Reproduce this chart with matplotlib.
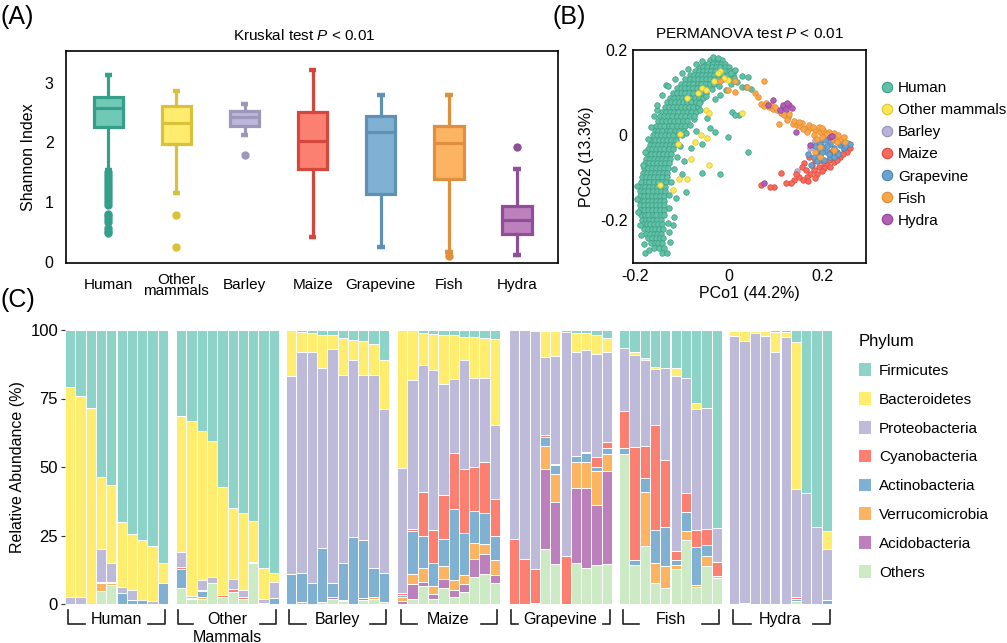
import matplotlib
matplotlib.use("Agg")
import matplotlib.pyplot as plt
from matplotlib.patches import Patch
from matplotlib.lines import Line2D

plt.rcParams["font.family"] = ["Liberation Sans", "DejaVu Sans"]
plt.rcParams["mathtext.fontset"] = "custom"
plt.rcParams["mathtext.rm"] = "Liberation Sans"
plt.rcParams["mathtext.it"] = "Liberation Sans:italic"

####### DATA ############
hosts = ["Human", "Other mammals", "Barley", "Maize", "Grapevine", "Fish", "Hydra"]
box_labels = ["Human", "Other\nmammals", "Barley", "Maize", "Grapevine", "Fish", "Hydra"]
facet_labels = ["Human", "Other\nMammals", "Barley", "Maize", "Grapevine", "Fish", "Hydra"]

box_fill = ["#70c9b5", "#ffec6e", "#bdb8d8", "#fb8072", "#80b1d3", "#fdb462", "#bc80bd"]
box_edge = ["#35a08a", "#d9c23a", "#9d97bb", "#d4473a", "#5f90b6", "#e0903c", "#8f4f98"]

# (A) Shannon index box statistics
shannon_whislo = [1.54, 1.16, 2.12, 0.42, 0.25, 0.16, 0.11]
shannon_q1 = [2.25, 1.97, 2.28, 1.56, 1.14, 1.38, 0.46]
shannon_med = [2.57, 2.32, 2.43, 2.03, 2.18, 1.99, 0.70]
shannon_q3 = [2.76, 2.61, 2.53, 2.51, 2.44, 2.28, 0.93]
shannon_whishi = [3.13, 2.86, 2.65, 3.22, 2.80, 2.80, 1.55]
shannon_fliers = [
    [1.50, 1.45, 1.40, 1.35, 1.30, 1.25, 1.20, 1.15, 1.10, 1.05, 1.00, 0.95,
     0.80, 0.76, 0.72, 0.66, 0.56, 0.52, 0.48],
    [0.78, 0.25],
    [1.79],
    [],
    [],
    [0.10],
    [1.93],
]

# (B) PCoA points
human_rows_y = [0.176, 0.168, 0.160, 0.151, 0.142, 0.132, 0.121, 0.110, 0.099, 0.088,
                0.077, 0.066, 0.055, 0.044, 0.033, 0.022, 0.011, 0.000, -0.011, -0.022,
                -0.033, -0.044, -0.055, -0.066, -0.077, -0.088, -0.099, -0.110, -0.121,
                -0.132, -0.143, -0.154, -0.165, -0.176, -0.187, -0.198, -0.209, -0.220,
                -0.231, -0.242, -0.253, -0.264, -0.276]
human_rows_x = [
    [-0.040, -0.030, -0.022, -0.014],
    [-0.052, -0.043, -0.034, -0.025, -0.016, -0.007],
    [-0.062, -0.054, -0.045, -0.036, -0.027, -0.018, -0.008, 0.002],
    [-0.072, -0.063, -0.055, -0.046, -0.037, -0.028, -0.019, -0.009, 0.004, 0.012],
    [-0.083, -0.074, -0.065, -0.056, -0.047, -0.039, -0.030, -0.021, -0.012, -0.002, 0.010],
    [-0.092, -0.083, -0.074, -0.066, -0.057, -0.048, -0.040, -0.031, -0.022, -0.012, 0.002],
    [-0.101, -0.093, -0.084, -0.075, -0.066, -0.058, -0.049, -0.040, -0.030],
    [-0.110, -0.102, -0.093, -0.084, -0.076, -0.067, -0.058, -0.048],
    [-0.118, -0.110, -0.101, -0.092, -0.084, -0.075, -0.066, -0.056, -0.047],
    [-0.125, -0.117, -0.108, -0.099, -0.091, -0.082, -0.072, -0.063, -0.054],
    [-0.131, -0.123, -0.114, -0.106, -0.097, -0.088, -0.079, -0.070, -0.061],
    [-0.136, -0.128, -0.119, -0.111, -0.102, -0.093, -0.084, -0.075, -0.066],
    [-0.141, -0.133, -0.124, -0.116, -0.107, -0.098, -0.088, -0.079, -0.070],
    [-0.146, -0.137, -0.129, -0.120, -0.111, -0.102, -0.092, -0.083],
    [-0.150, -0.142, -0.133, -0.124, -0.116, -0.107, -0.097, -0.088],
    [-0.154, -0.146, -0.137, -0.128, -0.120, -0.111, -0.101, -0.092],
    [-0.158, -0.150, -0.141, -0.132, -0.124, -0.115, -0.105, -0.096],
    [-0.162, -0.153, -0.145, -0.136, -0.127, -0.118, -0.108, -0.099],
    [-0.165, -0.157, -0.148, -0.139, -0.131, -0.122, -0.112],
    [-0.168, -0.160, -0.151, -0.143, -0.134, -0.125, -0.116],
    [-0.171, -0.163, -0.154, -0.146, -0.137, -0.128, -0.119],
    [-0.174, -0.166, -0.157, -0.149, -0.140, -0.131, -0.122],
    [-0.176, -0.168, -0.160, -0.151, -0.143, -0.134, -0.125],
    [-0.178, -0.170, -0.162, -0.153, -0.145, -0.136, -0.127],
    [-0.180, -0.172, -0.164, -0.155, -0.147, -0.138, -0.129],
    [-0.182, -0.174, -0.166, -0.157, -0.149, -0.140, -0.131],
    [-0.184, -0.176, -0.167, -0.159, -0.150, -0.141, -0.132],
    [-0.186, -0.177, -0.169, -0.160, -0.151, -0.143, -0.134],
    [-0.187, -0.179, -0.170, -0.161, -0.152, -0.144, -0.135],
    [-0.188, -0.180, -0.171, -0.162, -0.153, -0.145, -0.136],
    [-0.189, -0.181, -0.172, -0.163, -0.154, -0.146, -0.137],
    [-0.189, -0.181, -0.172, -0.164, -0.155, -0.146, -0.138],
    [-0.189, -0.181, -0.173, -0.164, -0.155, -0.147, -0.138],
    [-0.188, -0.180, -0.172, -0.163, -0.155, -0.146, -0.138],
    [-0.187, -0.179, -0.171, -0.162, -0.154, -0.145, -0.137],
    [-0.185, -0.177, -0.169, -0.161, -0.152, -0.144],
    [-0.183, -0.175, -0.167, -0.159, -0.151, -0.143],
    [-0.180, -0.172, -0.164, -0.156, -0.148, -0.140],
    [-0.176, -0.168, -0.160, -0.152, -0.144],
    [-0.172, -0.163, -0.155, -0.147, -0.139],
    [-0.166, -0.158, -0.150, -0.142],
    [-0.160, -0.148, -0.138],
    [-0.178, -0.142, -0.131],
]
human_sparse = [(0.018, 0.125), (0.028, 0.113), (0.042, 0.137), (0.049, 0.109), (0.038, 0.112),
                (0.022, 0.047), (0.042, -0.039), (0.000, -0.004), (-0.018, -0.090), (-0.056, -0.088),
                (-0.039, 0.016), (-0.028, 0.008), (-0.056, -0.020), (-0.091, -0.133), (-0.112, -0.148),
                (-0.116, -0.191), (-0.119, -0.211), (-0.133, 0.117), (-0.153, 0.060), (-0.074, 0.039),
                (-0.028, 0.084), (-0.018, 0.094), (0.007, 0.055), (0.014, 0.047), (0.116, 0.066),
                (0.122, 0.072), (-0.060, 0.060), (-0.045, 0.040), (-0.070, 0.010), (-0.080, -0.030),
                (-0.095, -0.060), (-0.100, -0.090), (0.030, 0.140), (0.012, 0.135), (0.005, 0.120),
                (-0.005, 0.105),
                # ragged edges of the main cloud
                (-0.195, -0.120), (-0.196, -0.150), (-0.194, -0.180), (-0.190, -0.210),
                (-0.186, -0.235), (-0.180, -0.255), (-0.170, -0.270), (-0.183, -0.070),
                (-0.178, -0.040), (-0.172, -0.010), (-0.166, 0.020), (-0.160, 0.045),
                (-0.152, 0.072), (-0.142, 0.095), (-0.130, 0.115), (-0.115, 0.131),
                (-0.100, 0.145), (-0.086, 0.156), (-0.070, 0.166), (-0.056, 0.175),
                (-0.125, -0.250), (-0.128, -0.228), (-0.130, -0.205), (-0.128, -0.170),
                (-0.126, -0.140), (-0.122, -0.110), (-0.116, -0.080), (-0.110, -0.050),
                (-0.103, -0.025), (-0.090, 0.005), (-0.083, 0.025), (-0.074, 0.045),
                (-0.062, 0.075), (-0.048, 0.092), (-0.036, 0.108), (-0.020, 0.116),
                (0.006, 0.146), (0.014, 0.153), (-0.032, 0.183), (-0.022, 0.181)]
mammal_pts = [(-0.018, 0.150), (-0.022, 0.145), (0.000, 0.129), (-0.057, 0.111), (-0.049, 0.107),
              (-0.089, 0.088), (-0.049, 0.059), (-0.042, 0.051), (-0.104, 0.002), (-0.059, 0.000),
              (-0.071, -0.016), (-0.045, -0.006), (-0.107, -0.021), (-0.079, -0.055), (-0.042, -0.070),
              (-0.089, -0.102), (-0.105, -0.102), (-0.147, -0.116), (-0.118, -0.128), (0.029, 0.051),
              (-0.010, 0.135), (-0.030, 0.128), (-0.066, 0.098)]
barley_pts = [(0.182, -0.020), (0.193, -0.016), (0.200, -0.012), (0.207, -0.004), (0.189, -0.027),
              (0.147, -0.084), (0.214, -0.008), (0.196, -0.023), (0.186, -0.012), (0.175, -0.030)]
maize_pts = [(0.256, -0.027), (0.246, -0.035), (0.235, -0.043), (0.225, -0.051), (0.214, -0.059),
             (0.204, -0.066), (0.193, -0.074), (0.182, -0.082), (0.175, -0.090), (0.168, -0.098),
             (0.161, -0.066), (0.158, -0.074), (0.172, -0.051), (0.186, -0.059), (0.196, -0.059),
             (0.211, -0.070), (0.225, -0.063), (0.239, -0.051), (0.253, -0.039), (0.189, -0.090),
             (0.204, -0.078), (0.218, -0.074), (0.232, -0.059), (0.179, -0.070), (0.165, -0.082),
             (0.140, -0.105), (0.151, -0.098), (0.133, -0.112), (0.123, -0.113), (0.112, -0.088),
             (0.097, -0.121), (0.088, -0.121), (0.069, -0.117), (0.196, -0.039), (0.218, -0.039),
             (0.160, -0.105), (0.145, -0.090), (0.244, -0.045), (0.260, -0.030), (0.200, -0.085),
             (0.185, -0.100), (0.170, -0.108)]
grape_pts = [(0.182, -0.051), (0.196, -0.047), (0.211, -0.039), (0.225, -0.031), (0.239, -0.023),
             (0.253, -0.018), (0.260, -0.020), (0.218, -0.051), (0.232, -0.039), (0.246, -0.031),
             (0.196, -0.020), (0.207, -0.012), (0.218, -0.020), (0.228, -0.012), (0.242, -0.016),
             (0.189, -0.035), (0.203, -0.027), (0.214, -0.045), (0.225, -0.051), (0.190, -0.060),
             (0.205, -0.058), (0.170, -0.045), (0.176, -0.070), (0.235, -0.045), (0.250, -0.026),
             (0.210, -0.025), (0.200, -0.040), (0.186, -0.025)]
fish_pts = [(0.070, 0.073), (0.077, 0.068), (0.086, 0.066), (0.095, 0.062), (0.104, 0.059),
            (0.112, 0.052), (0.119, 0.047), (0.128, 0.043), (0.109, 0.027), (0.137, 0.026),
            (0.146, 0.023), (0.154, 0.021), (0.165, 0.018), (0.175, 0.016), (0.186, 0.012),
            (0.196, 0.008), (0.207, 0.004), (0.218, 0.000), (0.228, -0.005), (0.239, -0.010),
            (0.249, -0.016), (0.168, 0.008), (0.182, 0.000), (0.193, 0.020), (0.203, 0.013),
            (0.214, 0.008), (0.225, 0.004), (0.235, 0.000), (0.246, -0.005), (0.232, -0.016),
            (0.221, -0.010), (0.189, -0.008), (0.196, -0.027), (0.186, -0.039), (0.196, -0.051),
            (0.225, -0.034), (0.077, 0.127), (0.056, 0.099), (0.063, 0.090), (0.039, 0.112),
            (0.014, 0.128), (-0.018, 0.128), (0.000, 0.105), (0.014, 0.102), (0.080, 0.075),
            (0.090, 0.072), (0.100, 0.066), (0.130, 0.050), (0.140, 0.034), (0.158, 0.028),
            (0.172, 0.024), (0.180, 0.020), (0.200, 0.017), (0.210, 0.002), (0.200, -0.004),
            (0.160, 0.014), (0.150, 0.030), (0.126, 0.035)]
hydra_pts = [(0.084, 0.070), (0.095, 0.082), (0.116, 0.070), (0.123, 0.062), (0.130, 0.070),
             (0.125, 0.075), (0.144, 0.008), (0.218, -0.004), (0.175, -0.023), (0.076, -0.113),
             (0.110, 0.060), (0.135, 0.064), (0.222, -0.002)]

pt_face = ["#5fc2a6", "#fde84f", "#b9b3d8", "#f9695c", "#6aa3cf", "#fca64a", "#b35fb8"]
pt_edge = ["#3d9e86", "#d8c33a", "#9690b8", "#d9483c", "#4b84b0", "#e08a30", "#8e4096"]

# (C) relative abundance (%), 10 samples per host, bottom -> top
phyla = ["Others", "Acidobacteria", "Verrucomicrobia", "Actinobacteria",
         "Cyanobacteria", "Proteobacteria", "Bacteroidetes", "Firmicutes"]
phylum_colors = {"Firmicutes": "#8dd3c7", "Bacteroidetes": "#ffed6f", "Proteobacteria": "#bebada",
                 "Cyanobacteria": "#fb8072", "Actinobacteria": "#80b1d3", "Verrucomicrobia": "#fdb462",
                 "Acidobacteria": "#bc80bd", "Others": "#ccebc5"}
legend_order = ["Firmicutes", "Bacteroidetes", "Proteobacteria", "Cyanobacteria",
                "Actinobacteria", "Verrucomicrobia", "Acidobacteria", "Others"]

human_ab = {
    "Others":          [0, 0, 0, 4.6, 6.8, 0, 0, 0, 0, 0],
    "Acidobacteria":   [0, 0, 0, 0, 0, 0, 0, 0, 0, 0],
    "Verrucomicrobia": [0, 0, 0, 2.9, 0.7, 0, 0, 0, 0, 0],
    "Actinobacteria":  [0, 0, 0, 0.5, 0, 3.9, 1.5, 1.5, 0, 7.8],
    "Cyanobacteria":   [0, 0, 0, 0, 0.7, 0, 0, 0, 0, 0],
    "Proteobacteria":  [2.7, 2.7, 0, 12.0, 6.8, 2.4, 3.6, 0, 1.0, 0],
    "Bacteroidetes":   [76.5, 73.2, 71.4, 26.5, 28.4, 23.6, 20.6, 21.7, 20.2, 7.3],
    "Firmicutes":      [20.8, 24.1, 28.6, 53.5, 56.6, 70.1, 74.3, 76.8, 78.8, 84.9],
}
mammal_ab = {
    "Others":          [5.8, 1.7, 1.9, 7.8, 2.7, 4.5, 1.9, 14.8, 0, 0],
    "Acidobacteria":   [0, 0, 0, 0, 0, 0, 0, 0, 0, 0],
    "Verrucomicrobia": [0, 0, 0.5, 0, 0, 0, 0, 0, 0, 0],
    "Actinobacteria":  [7.1, 0, 2.2, 0, 0, 0, 0, 0, 0.5, 2.2],
    "Cyanobacteria":   [0.7, 0.5, 0.5, 0, 0.7, 0.9, 0.7, 0, 0, 0],
    "Proteobacteria":  [5.4, 0.6, 3.6, 1.9, 0, 3.6, 2.4, 0.7, 1.2, 5.8],
    "Bacteroidetes":   [49.6, 64.0, 54.4, 49.8, 39.4, 26.0, 28.2, 14.7, 11.6, 3.4],
    "Firmicutes":      [31.4, 33.2, 36.9, 40.5, 57.2, 65.0, 66.8, 69.8, 86.7, 88.6],
}
barley_ab = {
    "Others":          [0, 0, 0, 0.7, 1.9, 1.0, 0, 1.5, 1.9, 0.7],
    "Acidobacteria":   [0, 0, 0, 0, 0.6, 0.5, 0, 0.7, 0, 0],
    "Verrucomicrobia": [0, 0.7, 0, 0, 0, 0, 0, 0, 0.7, 0],
    "Actinobacteria":  [10.8, 10.5, 7.5, 19.6, 5.0, 13.4, 24.6, 21.2, 10.6, 10.7],
    "Cyanobacteria":   [0, 0, 0, 0, 0, 0, 0, 0, 0, 0],
    "Proteobacteria":  [72.4, 80.8, 84.4, 65.9, 85.4, 68.6, 64.4, 60.3, 70.2, 59.6],
    "Bacteroidetes":   [16.8, 7.4, 7.1, 11.9, 5.1, 13.5, 7.4, 12.3, 11.6, 18.2],
    "Firmicutes":      [0, 0.6, 1.0, 1.9, 2.0, 3.0, 3.6, 4.0, 5.0, 10.8],
}
maize_ab = {
    "Others":          [0, 1.7, 6.6, 1.9, 6.0, 2.6, 4.4, 10.0, 10.8, 7.5],
    "Acidobacteria":   [1.0, 5.5, 1.5, 1.9, 3.0, 2.6, 2.8, 6.6, 7.4, 3.0],
    "Verrucomicrobia": [1.7, 3.6, 5.0, 2.7, 4.9, 3.6, 3.4, 5.5, 3.8, 5.5],
    "Actinobacteria":  [0.7, 15.8, 11.8, 8.5, 9.7, 26.0, 15.2, 11.9, 11.1, 9.0],
    "Cyanobacteria":   [0.7, 0.9, 15.8, 11.9, 16.2, 20.4, 23.4, 15.9, 18.9, 13.4],
    "Proteobacteria":  [45.6, 54.1, 46.5, 58.6, 40.6, 26.8, 39.7, 32.7, 30.3, 26.8],
    "Bacteroidetes":   [50.3, 18.4, 11.6, 13.0, 17.8, 16.0, 8.7, 14.7, 14.9, 31.6],
    "Firmicutes":      [0, 0, 1.2, 1.5, 1.8, 2.0, 2.4, 2.7, 2.8, 3.2],
}
grape_ab = {
    "Others":          [0, 0, 0, 20.2, 14.5, 0, 15.1, 13.3, 14.2, 14.5],
    "Acidobacteria":   [0, 0, 0, 29.0, 22.9, 0, 27.1, 29.2, 21.8, 34.1],
    "Verrucomicrobia": [0, 0, 0.5, 8.3, 9.9, 0, 9.7, 9.5, 12.4, 6.2],
    "Actinobacteria":  [0, 0, 0, 3.3, 3.4, 0, 2.1, 3.0, 1.7, 2.1],
    "Cyanobacteria":   [23.6, 16.5, 12.2, 0.8, 0.5, 17.5, 0, 0.5, 3.6, 2.1],
    "Proteobacteria":  [76.4, 83.5, 86.8, 28.4, 39.2, 81.8, 38.1, 37.3, 37.7, 32.8],
    "Bacteroidetes":   [0, 0, 0, 9.5, 9.1, 0, 6.9, 6.0, 6.8, 5.2],
    "Firmicutes":      [0, 0, 0.5, 0.5, 0.5, 0.7, 1.0, 1.2, 1.8, 3.0],
}
fish_ab = {
    "Others":          [54.6, 14.1, 21.2, 7.8, 6.0, 12.9, 23.2, 6.3, 13.9, 9.4],
    "Acidobacteria":   [0, 0, 0, 0, 0, 0, 0, 0, 0, 0],
    "Verrucomicrobia": [0, 0, 19.7, 7.3, 7.9, 1.2, 3.4, 0.6, 3.6, 0.9],
    "Actinobacteria":  [2.4, 1.8, 5.2, 11.9, 14.1, 1.9, 6.9, 13.9, 3.9, 0],
    "Cyanobacteria":   [13.4, 41.5, 11.6, 38.3, 24.6, 3.3, 7.1, 6.2, 5.8, 5.1],
    "Proteobacteria":  [23.2, 33.5, 31.4, 20.4, 33.5, 63.9, 41.9, 44.3, 44.5, 12.5],
    "Bacteroidetes":   [0, 0.9, 0.7, 0.7, 0, 2.8, 0, 1.9, 0, 0],
    "Firmicutes":      [6.4, 8.2, 10.2, 13.6, 13.9, 14.0, 17.5, 26.8, 28.3, 72.1],
}
hydra_ab = {
    "Others":          [0, 0, 0, 0, 0, 0, 1.0, 0, 0, 0],
    "Acidobacteria":   [0, 0, 0, 0, 0, 0, 0, 0, 0, 0],
    "Verrucomicrobia": [0, 0, 0, 0, 0, 0, 0, 0, 0, 0],
    "Actinobacteria":  [0, 0.5, 0, 0, 0, 0, 1.0, 0, 0, 1.5],
    "Cyanobacteria":   [0, 0, 0, 0, 0, 0, 0.5, 0, 0, 0],
    "Proteobacteria":  [97.8, 95.4, 99.0, 97.8, 92.0, 97.6, 39.4, 40.4, 28.1, 18.7],
    "Bacteroidetes":   [1.9, 3.9, 0.5, 1.8, 7.3, 1.5, 53.8, 0, 0, 6.4],
    "Firmicutes":      [0.3, 0.2, 0.5, 0.4, 0.7, 0.9, 4.3, 59.6, 71.9, 73.4],
}
abundance = [human_ab, mammal_ab, barley_ab, maize_ab, grape_ab, fish_ab, hydra_ab]

####### FIGURE ############
W, H = 1007, 643
fig = plt.figure(figsize=(W / 100, H / 100), dpi=100)


def px_axes(left, top, right, bottom):
    return fig.add_axes([left / W, 1 - bottom / H, (right - left) / W, (bottom - top) / H])


# ---- (A) boxplots
axA = px_axes(66, 51, 558, 263)
stats = []
for i in range(len(hosts)):
    stats.append({"med": shannon_med[i], "q1": shannon_q1[i], "q3": shannon_q3[i],
                  "whislo": shannon_whislo[i], "whishi": shannon_whishi[i],
                  "fliers": shannon_fliers[i]})
positions = list(range(1, len(hosts) + 1))
bp = axA.bxp(stats, positions=positions, widths=0.43, capwidths=0.11, patch_artist=True)
for i in range(len(hosts)):
    bp["boxes"][i].set(facecolor=box_fill[i], edgecolor=box_edge[i], linewidth=2.3)
    bp["medians"][i].set(color=box_edge[i], linewidth=2.3)
    for ln in bp["whiskers"][2 * i:2 * i + 2]:
        ln.set(color=box_edge[i], linewidth=2.3)
    for ln in bp["caps"][2 * i:2 * i + 2]:
        ln.set(color=box_edge[i], linewidth=3.2, solid_capstyle="butt")
    bp["fliers"][i].set(marker="o", markerfacecolor=box_edge[i], markeredgecolor=box_edge[i],
                        markersize=5)
axA.set_xlim(0.38, 7.6)
axA.set_ylim(-0.02, 3.53)
axA.set_yticks([0, 1, 2, 3])
axA.set_xticks([])
for p, lab in zip(positions, box_labels):
    axA.text(p, -0.104, lab, transform=axA.get_xaxis_transform(), ha="center", va="center",
             fontsize=11, linespacing=0.72)
axA.tick_params(axis="y", length=0, labelsize=11.5, pad=9)
axA.set_ylabel("Shannon Index", fontsize=11.5, labelpad=6)
axA.text(0.484, 1.075, "Kruskal test $P$ < 0.01", transform=axA.transAxes,
         ha="center", va="center", fontsize=11)
for s in axA.spines.values():
    s.set_linewidth(1.2)

# ---- (B) PCoA scatter
axB = px_axes(633, 50, 866, 263)
human_x = [x for row in human_rows_x for x in row] + [p[0] for p in human_sparse]
human_y = [y for y, row in zip(human_rows_y, human_rows_x) for _ in row] + [p[1] for p in human_sparse]
groups_pts = [list(zip(human_x, human_y)), mammal_pts, barley_pts, maize_pts,
              grape_pts, fish_pts, hydra_pts]
for i, pts in enumerate(groups_pts):
    axB.scatter([p[0] for p in pts], [p[1] for p in pts], s=16, c=pt_face[i],
                edgecolors=pt_edge[i], linewidths=0.5, zorder=2 + i)
axB.set_xlim(-0.204, 0.294)
axB.set_ylim(-0.30, 0.20)
axB.set_xticks([-0.2, 0, 0.2])
axB.set_xticklabels(["-0.2", "0", "0.2"])
axB.set_yticks([-0.2, 0, 0.2])
axB.set_yticklabels(["-0.2", "0", "0.2"])
axB.tick_params(axis="both", length=0, labelsize=11.5, pad=4)
axB.set_xlabel("PCo1 (44.2%)", fontsize=11.5, labelpad=2)
axB.set_ylabel("PCo2 (13.3%)", fontsize=11.5, labelpad=4)
axB.set_title("PERMANOVA test $P$ < 0.01", fontsize=11, pad=9)
for s in axB.spines.values():
    s.set_linewidth(1.2)
handlesB = [Line2D([], [], ls="none", marker="o", markersize=7.5, markerfacecolor=pt_face[i],
                   markeredgecolor=pt_edge[i], markeredgewidth=0.8, label=hosts[i])
            for i in range(len(hosts))]
fig.legend(handles=handlesB, loc="upper left", bbox_to_anchor=(872 / W, 1 - 75 / H),
           frameon=False, fontsize=11, labelspacing=0.53, handletextpad=0.1,
           handlelength=1.2, borderaxespad=0)

# ---- (C) stacked bars, one facet per host
facet_left = [65, 176, 286, 397, 509, 619, 729]
facet_width = 103
bracket_arms = [(-0.2, 1.45, 7.55, 9.2), (-0.3, 1.15, 7.65, 9.2), (-0.2, 1.4, 7.7, 9.2),
                (-0.15, 1.4, 7.7, 9.25), (-0.35, 0.35, 8.6, 9.3), (-0.1, 1.4, 7.6, 9.2),
                (-0.1, 1.6, 7.7, 9.3)]
for g, ab in enumerate(abundance):
    ax = px_axes(facet_left[g], 330, facet_left[g] + facet_width, 604)
    samples = list(range(len(ab["Firmicutes"])))
    bottom = [0.0] * len(samples)
    for ph in phyla:
        ax.bar(samples, ab[ph], bottom=bottom, width=1.0, color=phylum_colors[ph],
               edgecolor="white", linewidth=0.7)
        bottom = [b + v for b, v in zip(bottom, ab[ph])]
    ax.set_xlim(-0.5, len(samples) - 0.5)
    ax.set_ylim(0, 100)
    ax.set_xticks([])
    for s in ax.spines.values():
        s.set_visible(False)
    if g == 0:
        ax.set_yticks([0, 25, 50, 75, 100])
        ax.tick_params(axis="y", length=3, width=0.8, color="#333333", labelsize=12, pad=2)
        ax.set_ylabel("Relative Abundance (%)", fontsize=11.5, labelpad=4)
    else:
        ax.set_yticks([])
    # bracket + host label under the facet
    tr = ax.get_xaxis_transform()
    l0, l1, r0, r1 = bracket_arms[g]
    ax.plot([l0, l0, l1], [-0.022, -0.073, -0.073], transform=tr, clip_on=False,
            color="#222222", lw=1.2)
    ax.plot([r0, r1, r1], [-0.073, -0.073, -0.022], transform=tr, clip_on=False,
            color="#222222", lw=1.2)
    lines = facet_labels[g].split("\n")
    ax.text(4.5, -0.058, lines[0], transform=tr, ha="center", va="center", fontsize=11.5)
    if len(lines) > 1:
        ax.text(4.5, -0.122, lines[1], transform=tr, ha="center", va="center", fontsize=11.5)

handlesC = [Patch(facecolor=phylum_colors[p], edgecolor="none", label=p) for p in legend_order]
fig.legend(handles=handlesC, loc="upper left", bbox_to_anchor=(853 / W, 1 - 328 / H),
           frameon=False, title="Phylum", alignment="left", fontsize=11, title_fontsize=12,
           handlelength=0.8, handleheight=0.9, labelspacing=0.93, handletextpad=0.5,
           borderaxespad=0)

# panel letters
fig.text(0 / W, 1 - 17 / H, "(A)", fontsize=18, va="center", ha="left")
fig.text(552 / W, 1 - 17 / H, "(B)", fontsize=18, va="center", ha="left")
fig.text(0 / W, 1 - 300 / H, "(C)", fontsize=18, va="center", ha="left")

fig.savefig("out.png", dpi=100)
